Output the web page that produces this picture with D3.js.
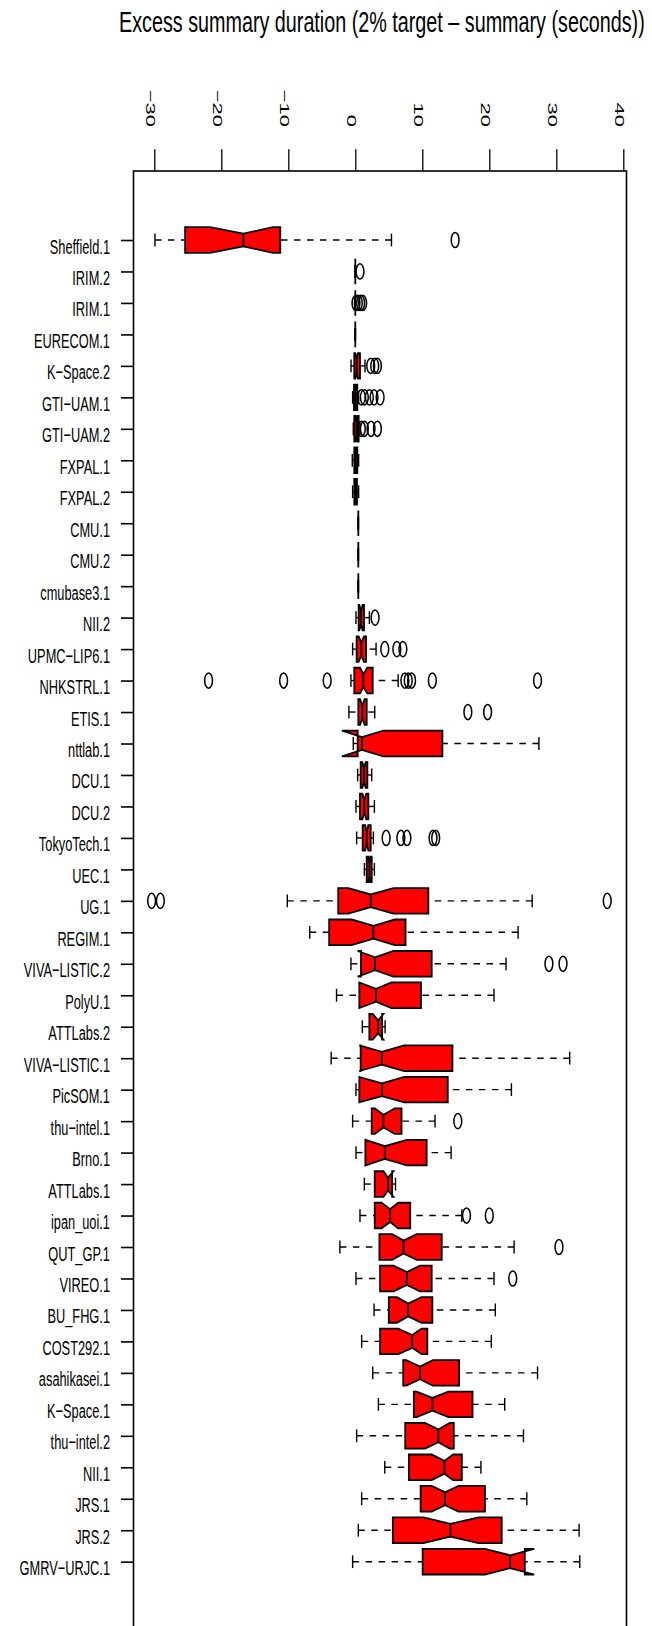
<!DOCTYPE html>
<html><head><meta charset="utf-8">
<script src="https://cdn.jsdelivr.net/npm/d3@7"></script>
<style>body{margin:0;background:#fff} text{font-family:"Liberation Sans",Arial,Helvetica,sans-serif;fill:#000}</style>
</head><body><svg id="c" width="652" height="1626"></svg>
<script>
const categories = ["Sheffield.1","IRIM.2","IRIM.1","EURECOM.1","K-Space.2","GTI-UAM.1","GTI-UAM.2","FXPAL.1","FXPAL.2","CMU.1","CMU.2","cmubase3.1","NII.2","UPMC-LIP6.1","NHKSTRL.1","ETIS.1","nttlab.1","DCU.1","DCU.2","TokyoTech.1","UEC.1","UG.1","REGIM.1","VIVA-LISTIC.2","PolyU.1","ATTLabs.2","VIVA-LISTIC.1","PicSOM.1","thu-intel.1","Brno.1","ATTLabs.1","ipan_uoi.1","QUT_GP.1","VIREO.1","BU_FHG.1","COST292.1","asahikasei.1","K-Space.1","thu-intel.2","NII.1","JRS.1","JRS.2","GMRV-URJC.1"];
const whiskerLow = [-29.9,0,0,0,-0.64,-0.4,-0.3,-0.45,-0.4,0.45,0.45,0.45,0.1,-0.4,-0.65,-0.95,-0.3,0.35,0.1,0.2,1.35,-10.15,-6.8,-0.65,-2.8,1.05,-3.6,0.1,-0.4,0.1,1.35,0.7,-2.3,0.1,2.8,0.95,2.6,3.45,0.2,4.4,0.95,0.45,-0.4];
const q1 = [-25.4,0,0,0,-0.15,-0.2,-0.15,-0.15,-0.15,0.45,0.45,0.45,0.5,0.2,-0.15,0.45,0.35,0.8,0.7,1.1,1.7,-2.55,-3.9,0.85,0.6,2.1,0.8,0.6,2.45,1.5,2.9,2.9,3.6,3.7,5.0,3.7,7.15,8.75,7.45,8.0,9.75,5.6,10.05];
const notchLow = [-21.7,0,0,0,0.0,-0.05,0.05,-0.05,-0.05,0.45,0.45,0.45,0.6,0.5,0.7,0.7,-2.0,1.05,1.05,1.45,1.95,-1.05,-0.55,0.35,0.6,2.6,0.6,0.5,2.9,1.5,4.2,3.9,5.5,5.7,6.2,6.4,7.6,9.15,10.4,11.4,11.4,10.15,19.35];
const median = [-16.7,0,0,0,0.2,0.05,0.2,0.05,0.05,0.45,0.45,0.45,0.85,0.9,1.2,1.05,1.0,1.3,1.35,1.7,2.1,2.3,2.7,2.95,3.1,3.4,3.95,4.0,4.2,4.4,4.9,5.2,7.2,7.7,7.9,8.5,9.65,11.5,12.4,13.3,13.4,14.2,23.1];
const notchHigh = [-12.3,0,0,0,0.4,0.15,0.35,0.15,0.15,0.45,0.45,0.45,1.1,1.3,1.8,1.4,4.2,1.55,1.65,1.95,2.25,5.7,5.9,5.7,5.4,4.2,7.3,7.3,5.9,7.7,5.7,6.4,9.15,9.65,9.9,9.9,11.6,13.9,14.1,14.6,15.4,18.4,26.7];
const q3 = [-11.2,0,0,0,0.7,0.3,0.5,0.3,0.25,0.45,0.45,0.45,1.3,1.6,2.6,1.7,13.0,1.8,1.95,2.3,2.45,10.9,7.5,11.4,9.8,4.0,14.5,13.8,6.9,10.65,5.5,8.2,12.9,11.4,11.5,10.75,15.5,17.5,14.7,15.9,19.35,21.85,25.3];
const whiskerHigh = [5.4,0,0,0,1.45,0.5,0.7,0.5,0.5,0.45,0.45,0.45,2.1,3.1,6.4,2.9,27.4,2.45,2.85,2.7,2.85,26.4,24.3,22.5,20.7,4.45,32.0,23.3,11.9,14.3,6.0,15.9,23.7,20.7,20.9,20.3,27.2,22.3,25.1,18.75,25.6,33.4,33.5];
const outliers = [[14.9],[0.7],[0.1,0.45,0.8,1.1],[],[2.3,2.9,3.3],[0.9,1.35,2.1,2.8,3.7],[0.9,1.35,2.35,3.3],[],[],[],[],[],[2.95],[4.4,6.2,7.1],[-21.9,-10.7,-4.2,7.4,7.9,8.4,11.5,27.2],[16.8,19.75],[],[],[],[4.6,6.8,7.7,11.6,12.0],[],[-30.4,-29.1,37.6],[],[28.9,31.0],[],[],[],[],[15.3],[],[],[16.6,20.0],[30.4],[23.5],[],[],[],[],[],[],[],[],[]];
const xTicks = [-30,-20,-10,0,10,20,30,40];
const titleText = "Excess summary duration (2% target \u2013 summary (seconds))";

const svg = d3.select("#c");
const x = d3.scaleLinear().domain([-30, 40]).range([154.3, 623.3]);
const y = d3.scalePoint().domain(categories).range([240, 1561.7]);
const H = 12.8, NF = 0.5, STAPLE = 6.4;

const rows = categories.map((c, i) => ({c, wl: whiskerLow[i], q1: q1[i], cl: notchLow[i], med: median[i], ch: notchHigh[i], q3: q3[i], wh: whiskerHigh[i], out: outliers[i]}));

// title (condensed to the reference width)
const title = svg.append("text").attr("x", 0).attr("y", 0).attr("font-size", 30).text(titleText);
const natural = title.node().getComputedTextLength();
title.attr("transform", `translate(119,31.7) scale(${526 / natural},1)`);

const plot = svg.append("g");
rows.forEach(r => {
  const yy = y(r.c);
  const g = plot.append("g");
  [[r.wl, r.q1], [r.wh, r.q3]].forEach(([a, b]) => {
    if (a !== b) g.append("line").attr("x1", x(a)).attr("x2", x(b)).attr("y1", yy).attr("y2", yy)
      .attr("stroke", "#000").attr("stroke-width", 1.4).attr("stroke-dasharray", "6.5,6.5");
    g.append("line").attr("x1", x(a)).attr("x2", x(a)).attr("y1", yy - STAPLE).attr("y2", yy + STAPLE)
      .attr("stroke", "#000").attr("stroke-width", 1.4);
  });
  const pts = [[r.q1, -H], [r.q1, H], [r.cl, H], [r.med, H * NF], [r.ch, H], [r.q3, H], [r.q3, -H], [r.ch, -H], [r.med, -H * NF], [r.cl, -H]];
  g.append("polygon").attr("points", pts.map(p => `${x(p[0])},${yy + p[1]}`).join(" "))
    .attr("fill", "#ff0000").attr("stroke", "#000").attr("stroke-width", 1.8).attr("stroke-linejoin", "miter");
  g.append("line").attr("x1", x(r.med)).attr("x2", x(r.med)).attr("y1", yy - H * NF).attr("y2", yy + H * NF)
    .attr("stroke", "#000").attr("stroke-width", 1.8);
  g.selectAll("ellipse").data(r.out).join("ellipse").attr("cx", d => x(d)).attr("cy", yy)
    .attr("rx", 3.9).attr("ry", 7.6).attr("fill", "none").attr("stroke", "#000").attr("stroke-width", 1.5);
});

// frame
svg.append("rect").attr("x", 133.5).attr("y", 171).attr("width", 493).attr("height", 1500)
  .attr("fill", "none").attr("stroke", "#000").attr("stroke-width", 1.6);

// x axis (top)
const gx = svg.append("g").attr("transform", "translate(0,171)")
  .call(d3.axisTop(x).tickValues(xTicks).tickSize(21.7).tickFormat(d3.format("d")));
gx.select(".domain").remove();
gx.selectAll(".tick line").attr("stroke", "#000").attr("stroke-width", 1.3);
gx.selectAll(".tick text").attr("x", null).attr("y", null).attr("dy", null)
  .attr("transform", "translate(-8.5,-44) rotate(90) scale(1,0.6)")
  .attr("text-anchor", "end").attr("font-size", 22).attr("fill", "#000")
  .attr("font-family", '"Liberation Sans",Arial,sans-serif');

// y axis (left)
const gy = svg.append("g").attr("transform", "translate(133.5,0)")
  .call(d3.axisLeft(y).tickSize(12.5).tickFormat(d => d.replace(/-/g, "\u2212")));
gy.select(".domain").remove();
gy.selectAll(".tick line").attr("stroke", "#000").attr("stroke-width", 1.6);
gy.selectAll(".tick text").attr("x", null).attr("dy", null)
  .attr("transform", "translate(-23.5,13) scale(0.61,1)")
  .attr("text-anchor", "end").attr("font-size", 21).attr("fill", "#000")
  .attr("font-family", '"Liberation Sans",Arial,sans-serif');
</script></body></html>
